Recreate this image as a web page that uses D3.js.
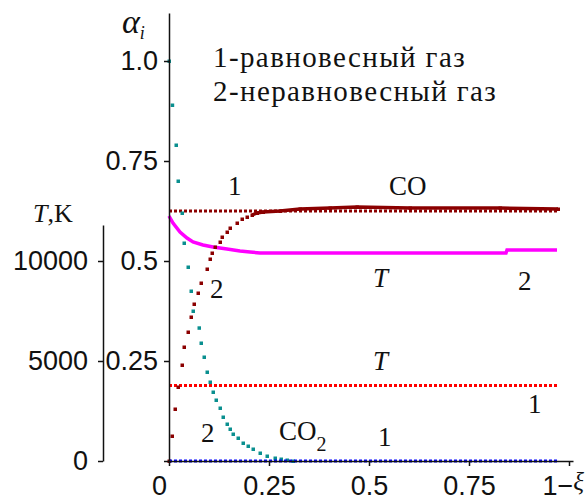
<!DOCTYPE html>
<html>
<head>
<meta charset="utf-8">
<script src="https://cdn.jsdelivr.net/npm/d3@7"></script>
<style>
body{margin:0;background:#fff;}
svg text{fill:#111;}
</style>
</head>
<body>
<div id="chart"></div>
<script>
// CO2, nonequilibrium gas (2)
const xiCO2=[0,0.008,0.0175,0.0225,0.0325,0.0375,0.0475,0.055,0.06,0.075,0.08,0.0875,0.095,0.1025,0.11,0.1175,0.1275,0.135,0.145,0.1525,0.16,0.1725,0.185,0.1975,0.21,0.2275,0.245,0.265,0.28,0.295,0.31];
const aCO2=[1.0,0.89,0.79,0.70,0.62,0.545,0.485,0.425,0.375,0.333,0.295,0.26,0.2225,0.1975,0.1725,0.1525,0.1325,0.11,0.0925,0.08,0.0675,0.0575,0.045,0.0375,0.03,0.02,0.0125,0.0075,0.005,0.0025,0];
// CO, nonequilibrium gas (2)
const xiCO=[0,0.0075,0.015,0.0225,0.0325,0.0375,0.0475,0.055,0.0625,0.0725,0.08,0.095,0.1025,0.1075,0.115,0.1275,0.1325,0.145,0.1525,0.17,0.1825,0.195,0.2075,0.22,0.235,0.2775,0.3275,0.4025,0.47,0.6025,0.8275,0.9725];
const aCO=[0,0.0625,0.13,0.185,0.24,0.285,0.3225,0.36,0.3925,0.42,0.445,0.48,0.505,0.52,0.535,0.5475,0.56,0.5725,0.5825,0.595,0.605,0.61,0.615,0.62,0.6225,0.625,0.63,0.6325,0.635,0.6325,0.6325,0.63];
// temperature, nonequilibrium gas (2)
const xiT=[0,0.01,0.0275,0.045,0.06,0.085,0.11,0.145,0.1775,0.2025,0.2275,0.6025,0.8425,0.845,0.97];
const tempT=[12250,11900,11450,11150,10950,10800,10700,10600,10500,10450,10400,10400,10400,10550,10550];
// equilibrium gas (1)
const xiEq=[0,0.97];
const aCOeq=[0.625,0.625];
const aCO2eq=[0,0];
const tempEq=[3780,3780];

const xTicks=[0,0.25,0.5,0.75,1];
const xLabels=['0','0.25','0.5','0.75','1−'];
const aTicks=[0,0.25,0.5,0.75,1];
const aLabels=['','0.25','0.5','0.75','1.0'];
const tTicks=[0,5000,10000];

const width=586,height=502;

const svg=d3.select('#chart').append('svg')
.attr('width',width).attr('height',height)
.style('background','#fff');

const x=d3.scaleLinear().domain([0,1.01]).range([169,573]);
const ya=d3.scaleLinear().domain([0,1.12]).range([461,13]);
const yt=d3.scaleLinear().domain([0,11800]).range([461,225]);

const sans='"Liberation Sans", Arial, sans-serif';
const serif='"Liberation Serif", "Times New Roman", serif';

function styleAxis(g){
  g.selectAll('path,line').attr('stroke','#111').attr('stroke-width',1.5);
  g.selectAll('text').attr('font-family',sans).attr('font-size',27).attr('fill','#222');
}

const lineA=d3.line().x(d=>x(d[0])).y(d=>ya(d[1]));
const lineT=d3.line().x(d=>x(d[0])).y(d=>yt(d[1]));

// equilibrium lines (dotted)
svg.append('path').datum(d3.zip(xiEq,aCOeq))
.attr('d',lineA).attr('fill','none').attr('stroke','#8b0000')
.attr('stroke-width',3).attr('stroke-dasharray','3,2');

svg.append('path').datum(d3.zip(xiEq,tempEq))
.attr('d',lineT).attr('fill','none').attr('stroke','#ff0000')
.attr('stroke-width',3).attr('stroke-dasharray','3,2');

// nonequilibrium temperature
svg.append('path').datum(d3.zip(xiT,tempT))
.attr('d',lineT).attr('fill','none').attr('stroke','#ff00ff')
.attr('stroke-width',3.5);

// CO plateau as solid line + dots
svg.append('path').datum(d3.zip(xiCO,aCO).filter(d=>d[0]>=0.2))
.attr('d',lineA).attr('fill','none')
.attr('stroke','#8b0000').attr('stroke-width',3.5);

svg.selectAll('.co').data(d3.zip(xiCO,aCO)).enter().append('rect')
.attr('class','co')
.attr('x',d=>x(d[0])-1.5).attr('y',d=>ya(d[1])-1.5)
.attr('width',3.5).attr('height',3.5).attr('fill','#8b0000');

svg.selectAll('.co2').data(d3.zip(xiCO2,aCO2)).enter().append('rect')
.attr('class','co2')
.attr('x',d=>x(d[0])-1.5).attr('y',d=>ya(d[1])-1.5)
.attr('width',3.5).attr('height',3.5).attr('fill','#0a8f8f');

svg.append('path').datum(d3.zip(xiEq,aCO2eq))
.attr('d',lineA).attr('fill','none').attr('stroke','#0000ff')
.attr('stroke-width',3).attr('stroke-dasharray','3,2');

// axes
const xaxis=svg.append('g').attr('transform','translate(0,461)')
.call(d3.axisBottom(x).tickValues(xTicks).tickFormat((d,i)=>xLabels[i])
.tickSizeInner(5).tickSizeOuter(0).tickPadding(10));
styleAxis(xaxis);
xaxis.selectAll('.tick text').filter(d=>d===0).attr('dx',-10);
const lastLab=xaxis.selectAll('.tick text').filter(d=>d===1)
.attr('text-anchor','start').attr('dx',-27);
lastLab.append('tspan').attr('font-family',serif).attr('font-style','italic')
.attr('font-size',25).attr('dy',-5).text('ξ');

const aaxis=svg.append('g').attr('transform','translate(169,0)')
.call(d3.axisLeft(ya).tickValues(aTicks).tickFormat((d,i)=>aLabels[i])
.tickSizeInner(5).tickSizeOuter(0).tickPadding(6));
styleAxis(aaxis);

const taxis=svg.append('g').attr('transform','translate(103,0)')
.call(d3.axisLeft(yt).tickValues(tTicks).tickFormat(d3.format('d'))
.tickSizeInner(5).tickSizeOuter(0).tickPadding(10));
styleAxis(taxis);

// axis titles
const at=svg.append('text').attr('x',122).attr('y',33)
.attr('font-family',serif).attr('font-size',34).attr('font-style','italic');
at.append('tspan').text('α');
at.append('tspan').attr('font-size',18).attr('dy',6).text('i');

const tk=svg.append('text').attr('x',33).attr('y',222)
.attr('font-family',serif).attr('font-size',26);
tk.append('tspan').attr('font-style','italic').text('T');
tk.append('tspan').text(',K');

// legend
svg.append('text').attr('x',213).attr('y',67).attr('font-family',serif)
.attr('font-size',29).attr('letter-spacing',1.4).text('1-равновесный газ');
svg.append('text').attr('x',213).attr('y',101).attr('font-family',serif)
.attr('font-size',29).attr('letter-spacing',1.4).text('2-неравновесный газ');

// curve annotations
function note(px,py,str,italic){
  return svg.append('text').attr('x',px).attr('y',py).attr('font-family',serif)
  .attr('font-size',27).attr('font-style',italic?'italic':'normal').text(str);
}
note(228,195,'1');
note(389,195,'CO');
note(210,298,'2');
note(373,287,'T',true);
note(518,290,'2');
note(373,370,'T',true);
note(528,413,'1');
note(201,442,'2');
note(378,446,'1');
const co2t=note(279,440,'CO');
co2t.append('tspan').attr('font-size',20).attr('dy',11).text('2');
</script>
</body>
</html>
